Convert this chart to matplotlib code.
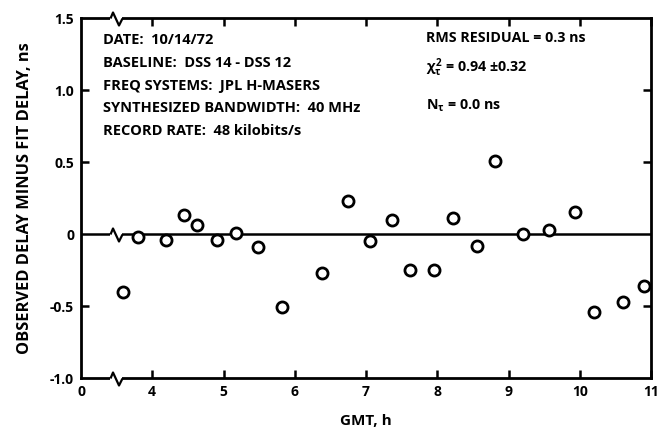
import matplotlib
matplotlib.use("Agg")
import matplotlib.pyplot as plt
from matplotlib.path import Path
from matplotlib.transforms import blended_transform_factory

# ---- data ----
gmt_hours = [3.59, 3.80, 4.19, 4.45, 4.63, 4.91, 5.18, 5.49, 5.82, 6.38, 6.75,
             7.06, 7.36, 7.62, 7.95, 8.22, 8.56, 8.81, 9.20, 9.57, 9.93,
             10.20, 10.60, 10.90]
residual_ns = [-0.40, -0.02, -0.04, 0.13, 0.06, -0.04, 0.01, -0.09, -0.51, -0.27, 0.23,
               -0.05, 0.10, -0.25, -0.25, 0.11, -0.08, 0.51, 0.00, 0.03, 0.15,
               -0.54, -0.47, -0.36]
x_ticks = [3, 4, 5, 6, 7, 8, 9, 10, 11]
x_tick_labels = ["0", "4", "5", "6", "7", "8", "9", "10", "11"]
y_ticks = [-1.0, -0.5, 0.0, 0.5, 1.0, 1.5]
y_tick_labels = ["-1.0", "-0.5", "0", "0.5", "1.0", "1.5"]
BREAK_X = 3.5

left_notes = ["DATE:  10/14/72",
              "BASELINE:  DSS 14 - DSS 12",
              "FREQ SYSTEMS:  JPL H-MASERS",
              "SYNTHESIZED BANDWIDTH:  40 MHz",
              "RECORD RATE:  48 kilobits/s"]
right_notes = ["RMS RESIDUAL = 0.3 ns",
               r"$\chi^2_\tau$ = 0.94 $\pm$0.32",
               r"N$_\tau$ = 0.0 ns"]

FONT = "Open Sans"
plt.rcParams['font.family'] = [FONT, 'DejaVu Sans']
plt.rcParams['font.weight'] = 'bold'
plt.rcParams['mathtext.fontset'] = 'custom'
plt.rcParams['mathtext.rm'] = FONT + ':bold'
plt.rcParams['mathtext.it'] = FONT + ':bold'

W, H = 659, 430
fig = plt.figure(figsize=(W / 100, H / 100), dpi=100)
ax = fig.add_axes([81 / W, 1 - 378 / H, (651 - 81) / W, (378 - 18) / H])

ax.set_xlim(3, 11)
ax.set_ylim(-1.0, 1.5)

for sp in ax.spines.values():
    sp.set_linewidth(2.0)

ax.axhline(0, color="black", lw=1.8, zorder=2)

ax.plot(gmt_hours, residual_ns, linestyle="none", marker="o", markersize=8,
        markerfacecolor="white", markeredgecolor="black", markeredgewidth=2.0, zorder=4)

ax.set_xticks(x_ticks)
ax.set_xticklabels(x_tick_labels)
ax.set_yticks(y_ticks)
ax.set_yticklabels(y_tick_labels)
ax.tick_params(axis="both", which="both", direction="in", length=6, width=1.8,
               labelsize=10, top=True, right=True, pad=5)
for tk in [ax.xaxis.get_major_ticks()[0], ax.yaxis.get_major_ticks()[0],
           ax.yaxis.get_major_ticks()[2], ax.yaxis.get_major_ticks()[-1]]:
    tk.tick1line.set_visible(False)
    tk.tick2line.set_visible(False)

ax.set_xlabel("GMT, h", fontsize=11, fontweight="bold", labelpad=11)
ax.set_ylabel("OBSERVED DELAY MINUS FIT DELAY, ns", fontsize=11.8,
              fontweight="bold", labelpad=12)

# axis break symbols
white_box = Path([(-7, -2.5), (5, -2.5), (5, 2.5), (-7, 2.5), (-7, -2.5)],
                 [Path.MOVETO, Path.LINETO, Path.LINETO, Path.LINETO, Path.CLOSEPOLY])
zig = Path([(-7, 0), (-4.5, 6), (1.5, -7), (5, 0)])
ms = 2 * 7 * 0.72
bt = blended_transform_factory(ax.transData, ax.transAxes)
for yy, tr in [(0.0, bt), (1.0, bt), (0.0, ax.transData)]:
    ax.plot([BREAK_X], [yy], transform=tr, marker=white_box, markersize=ms,
            markerfacecolor="white", markeredgewidth=0, linestyle="none",
            clip_on=False, zorder=5)
    ax.plot([BREAK_X], [yy], transform=tr, marker=zig, markersize=ms,
            markerfacecolor="none", markeredgecolor="black", markeredgewidth=1.6,
            linestyle="none", clip_on=False, zorder=6)

# annotations (positions in figure pixels)
left_y = [40, 63, 86, 108.5, 131]
for s, yp in zip(left_notes, left_y):
    fig.text(103 / W, 1 - yp / H, s, fontsize=10.5, fontweight="bold",
             va="center", ha="left")

right_y = [38, 68, 106]
for s, yp in zip(right_notes, right_y):
    fig.text(426 / W, 1 - yp / H, s, fontsize=10.3, fontweight="bold",
             va="center", ha="left")

fig.savefig("out.png", dpi=100)
